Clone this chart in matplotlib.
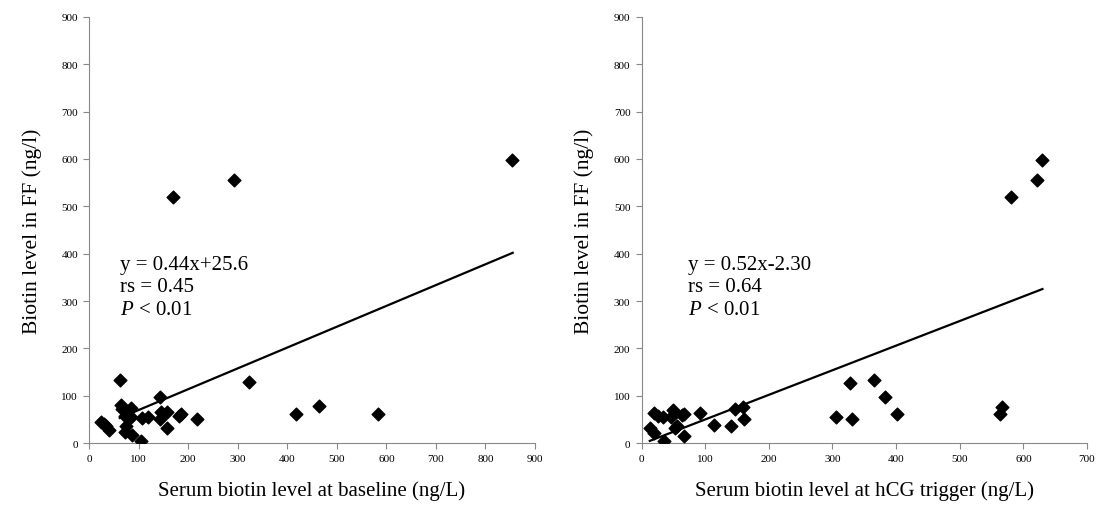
import matplotlib
matplotlib.use('Agg')
import matplotlib.pyplot as plt
import numpy as np

# left panel: serum biotin at baseline vs FF biotin
base_x = [25, 35, 40, 30, 63, 65, 67, 84, 72, 84, 75, 73, 87, 104, 107, 119,
          144, 143, 146, 158, 158, 181, 185, 217, 322, 418, 464, 584, 170, 292, 853]
base_y = [44, 36, 28, 40, 133, 80, 72, 73, 57, 54, 35, 24, 17, 5, 53, 54,
          98, 51, 66, 65, 31, 57, 62, 51, 128, 62, 79, 61, 520, 556, 597]

# right panel: serum biotin at hCG trigger vs FF biotin
hcg_x = [19, 26, 33, 50, 47, 63, 67, 13, 20, 35, 56, 53, 67, 92, 114, 140,
         147, 160, 161, 306, 328, 330, 366, 382, 402, 563, 566, 580, 621, 630]
hcg_y = [63, 57, 54, 69, 54, 60, 61, 31, 22, 4, 36, 31, 15, 63, 39, 35,
         72, 77, 51, 55, 127, 50, 133, 98, 61, 62, 77, 520, 555, 597]

# regression lines (slope, intercept, x range of drawn line)
base_fit = (0.44, 25.6, [62, 855])
hcg_fit = (0.52, -2.30, [13, 630])

base_text = ['y = 0.44x+25.6', 'rs = 0.45']
hcg_text = ['y = 0.52x-2.30', 'rs = 0.64']

plt.rcParams['font.family'] = ['Liberation Serif', 'DejaVu Serif']
plt.rcParams['mathtext.fontset'] = 'custom'
plt.rcParams['mathtext.it'] = 'Liberation Serif:italic'
plt.rcParams['mathtext.rm'] = 'Liberation Serif'

fig = plt.figure(figsize=(11.01, 5.06), dpi=100)
W, H = 1101, 506
ax1 = fig.add_axes([89 / W, 1 - 444 / H, (535 - 89) / W, (444 - 18) / H])
ax2 = fig.add_axes([641.5 / W, 1 - 444 / H, (1087 - 641.5) / W, (444 - 18) / H])


def draw(ax, xs, ys, fit, txt, xmax, xlabel, tx):
    ax.scatter(xs, ys, marker='D', s=42, color='black', zorder=3)
    a, b, xr = fit
    xr = np.array(xr)
    ax.plot(xr, a * xr + b, color='black', lw=1.6)
    ax.set_xlim(0, xmax)
    ax.set_ylim(0, 900)
    ax.set_xticks(np.arange(0, xmax + 1, 100))
    ax.set_yticks(np.arange(0, 901, 100))
    for s in ['top', 'right']:
        ax.spines[s].set_visible(False)
    for s in ['left', 'bottom']:
        ax.spines[s].set_color('#888888')
        ax.spines[s].set_linewidth(0.8)
    ax.tick_params(labelsize=8, length=4, color='#888888', width=0.8, pad=4)
    ax.set_xlabel(xlabel, fontsize=15, labelpad=12)
    ax.set_ylabel('Biotin level in FF (ng/l)', fontsize=15.5, labelpad=14)
    ax.text(tx, 398, txt[0] + '\n' + txt[1] + '\n' + r'$P$ < 0.01',
            fontsize=15, va='top', ha='left', linespacing=1.25)


draw(ax1, base_x, base_y, base_fit, base_text, 900,
     'Serum biotin level at baseline (ng/L)', 63)
draw(ax2, hcg_x, hcg_y, hcg_fit, hcg_text, 700,
     'Serum biotin level at hCG trigger (ng/L)', 73)

fig.savefig('out.png', dpi=100)
